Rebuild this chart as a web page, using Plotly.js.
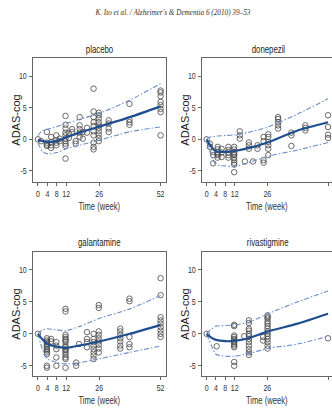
<!DOCTYPE html>
<html>
<head>
<meta charset="utf-8">
<script src="https://cdn.plot.ly/plotly-3.0.1.min.js"></script>
<style>html,body{margin:0;padding:0;background:#fff}#chart{width:332px;height:412px}</style>
</head>
<body>
<div id="chart"></div>
<script>
// ---- data (weeks / ADAS-cog change) ----
const panelNames = ["placebo", "donepezil", "galantamine", "rivastigmine"];
const weekTicks = [0, 4, 8, 12, 26, 52];
const adasTicks = [-5, 0, 5, 10];

const plaX = [0,1.4,3.8,3.8,3.8,3.8,5.6,5.6,5.6,5.6,7.8,7.8,7.8,7.8,9.2,9.2,
  11.7,11.7,11.7,11.7,11.7,11.7,11.7,11.7,11.7,11.7,13.1,13.1,14.5,14.5,16,16,
  17.7,17.7,17.7,17.7,17.7,19,19,20.8,20.8,
  23.6,23.6,23.6,23.6,23.6,23.6,23.6,23.6,23.6,23.6,
  25.8,25.8,25.8,25.8,25.8,25.8,25.8,25.8,25.8,25.8,
  30,30,30,30,38.8,38.8,38.8,38.8,52,52,52,52,52,52,52,52];
const plaY = [0,-0.3,1.16,-0.53,-0.84,-1.05,0.37,-0.42,-0.95,-1.37,0.63,-0.16,-0.53,-0.95,0.1,-0.3,
  3.7,2.3,1.7,1.05,0.63,0.1,-0.3,-0.7,-1.05,-3.05,0.9,0.2,1.6,1.16,-0.3,-0.7,
  3.5,2.2,1.6,1.05,0.37,1.16,0.1,1.8,1.05,
  8.0,4.4,3.5,2.7,2.1,1.26,0.63,-0.53,-1.2,-1.6,
  4.2,3.8,3.3,2.7,2.2,1.8,1.26,0.74,0.2,-0.3,
  3.0,2.5,1.7,1.16,5.6,3.1,2.7,2.3,7.7,7.4,6.8,5.9,5.4,4.8,4.3,0.63];

const donX = [0,1.4,1.4,2.8,2.8,2.8,4.7,4.7,4.7,4.7,4.7,4.7,6.4,6.4,6.4,
  9.3,9.3,9.3,9.3,9.3,11.8,11.8,11.8,11.8,11.8,11.8,11.8,11.8,11.8,11.8,
  14.2,14.2,14.2,16.4,18.1,18.1,18.1,19.9,21.8,21.8,
  24.4,24.4,24.4,24.4,26.4,26.4,26.4,26.4,26.4,26.4,
  30.6,30.6,30.6,30.6,30.6,36.3,36.3,36.3,42.3,42.3,42.3,52,52,52,52];
const donY = [0,-0.7,-1.2,-2.0,-2.5,-3.8,-1.2,-1.6,-2.0,-2.3,-2.5,-2.9,-1.5,-2.1,-2.8,
  -1.2,-1.7,-2.1,-2.5,-2.9,-1.2,-1.6,-2.0,-2.3,-2.5,-2.9,-3.3,-3.7,-4.0,-5.2,
  1.26,0.63,0.1,-3.5,-0.5,-0.95,-1.5,-3.5,-0.95,-1.5,
  0.37,-0.3,-3.3,-3.7,0.8,0.37,-0.42,-0.95,-1.5,-2.5,
  3.5,3.2,2.7,2.2,1.7,1.05,0.63,-1.05,2.2,1.8,1.4,3.8,1.95,0.74,0.2];

const galX = [0,3.8,3.8,3.8,3.8,3.8,3.8,3.8,3.8,3.8,3.8,3.8,3.8,5.6,5.6,
  7.8,7.8,7.8,7.8,7.8,
  11.7,11.7,11.7,11.7,11.7,11.7,11.7,11.7,11.7,11.7,11.7,11.7,11.7,11.7,11.7,11.7,
  16.2,16.2,17.4,20.8,20.8,20.8,20.8,
  23.6,23.6,23.6,23.6,23.6,23.6,23.6,23.6,
  25.8,25.8,25.8,25.8,25.8,25.8,25.8,25.8,25.8,
  34.9,34.9,34.9,34.9,34.9,34.9,34.9,38.8,38.8,38.8,38.8,38.8,
  52,52,52,52,52,52,52,52,52];
const galY = [0,-0.7,-1.05,-1.3,-1.6,-1.85,-2.1,-2.4,-2.6,-2.9,-3.2,-5.0,-5.3,-0.8,-1.2,
  -1.3,-1.85,-2.4,-3.7,-5.0,
  3.9,3.5,-0.15,-0.5,-0.8,-1.05,-1.3,-1.85,-2.1,-2.4,-2.6,-2.9,-3.3,-3.7,-3.95,-5.3,
  -4.5,-5.0,-1.6,0.26,-0.8,-1.3,-2.1,
  0,-0.8,-1.3,-1.85,-2.4,-2.9,-3.4,-3.95,
  4.5,4.05,0.37,-0.15,-0.7,-1.2,-1.7,-2.3,-2.9,
  0.8,0.37,-0.15,-0.7,-1.2,-1.85,-2.3,5.5,5.1,-0.5,-1.6,-2.1,
  8.7,6.05,2.6,2.1,1.6,1.05,0.5,0,-0.5];

const rivX = [0,4.3,11.8,11.8,11.8,11.8,11.8,11.8,11.8,11.8,11.8,11.8,11.8,11.8,16.1,
  18.1,18.1,18.1,18.1,18.1,18.1,18.1,18.1,18.1,18.1,18.1,18.1,24.2,24.2,
  26.1,26.1,26.1,26.1,26.1,26.1,26.1,26.1,26.1,26.1,26.1,26.1,26.1,26.1,52];
const rivY = [0,-1.95,1.4,1.2,-0.26,-0.5,-0.8,-1.05,-1.3,-1.6,-1.85,-2.1,-4.4,-5.0,-0.37,
  2.1,1.7,0.8,0.5,0,-0.37,-0.8,-1.3,-1.85,-2.4,-2.9,-3.3,-0.5,-1.05,
  2.9,2.6,2.4,1.95,1.6,1.2,0.8,0.37,0,-0.37,-0.8,-1.3,-1.85,-2.3,-0.7];

// model curves (mean and prediction interval)
const curveWeeks = [0, 2, 4, 8, 12, 18, 26, 39, 52];
const plaMean = [-0.1, -0.3, -0.4, -0.3, 0.3, 1.1, 2.0, 3.5, 5.2];
const plaUp   = [0.6, 1.4, 1.6, 2.0, 2.5, 3.2, 4.1, 6.2, 8.8];
const plaLo   = [-0.6, -1.9, -2.3, -2.1, -1.5, -0.9, -0.15, 1.2, 1.95];
const donMean = [0, -1.2, -1.9, -2.0, -1.85, -1.4, -0.5, 1.4, 2.7];
const donUp   = [0.2, 0.4, 0.5, 0.6, 0.7, 1.1, 1.9, 4.0, 6.4];
const donLo   = [-0.2, -2.6, -4.0, -4.2, -4.3, -3.7, -2.7, -1.7, -0.5];
const galMean = [0, -0.9, -1.6, -2.0, -2.2, -1.8, -1.2, 0.0, 1.4];
const galUp   = [0, 0.6, 0.8, 0.6, 0.5, 1.2, 2.4, 3.9, 6.0];
const galLo   = [0, -2.5, -3.9, -4.5, -4.7, -4.5, -3.9, -2.9, -1.9];
const rivMean = [0, -0.6, -0.95, -1.15, -1.1, -0.7, 0.35, 1.6, 3.15];
const rivUp   = [0.1, 0.7, 1.2, 1.3, 1.4, 1.8, 3.1, 5.0, 6.7];
const rivLo   = [-0.1, -1.8, -3.2, -3.5, -3.5, -3.1, -2.3, -1.6, -0.4];

const obsX = [plaX, donX, galX, rivX];
const obsY = [plaY, donY, galY, rivY];
const means = [plaMean, donMean, galMean, rivMean];
const ups = [plaUp, donUp, galUp, rivUp];
const los = [plaLo, donLo, galLo, rivLo];

const FONT = "Liberation Sans, Arial, sans-serif";
const traces = [];
for (let i = 0; i < 4; i++) {
  const xa = i === 0 ? "x" : "x" + (i + 1);
  const ya = i === 0 ? "y" : "y" + (i + 1);
  traces.push({x: obsX[i], y: obsY[i], xaxis: xa, yaxis: ya, mode: "markers", type: "scatter",
    marker: {symbol: "circle-open", size: 5.5, color: "#454545", line: {width: 0.8, color: "#454545"}},
    showlegend: false, hoverinfo: "x+y"});
  [ups[i], los[i]].forEach(arr => traces.push({x: curveWeeks, y: arr, xaxis: xa, yaxis: ya, mode: "lines",
    type: "scatter", line: {color: "#6a8dca", width: 1.1, dash: "5px,2px,1.5px,2px", shape: "spline", smoothing: 0.7},
    showlegend: false}));
  traces.push({x: curveWeeks, y: means[i], xaxis: xa, yaxis: ya, mode: "lines", type: "scatter",
    line: {color: "#1f4f8f", width: 2.2, shape: "spline", smoothing: 0.7}, showlegend: false});
}

const W = 332, H = 412;
const xL = [32.5 / W, 166 / W], xR = [201.5 / W, 1];
const yT = [1 - 182 / H, 1 - 58 / H], yB = [1 - 376 / H, 1 - 252 / H];

function xax(dom, rng, anchor) {
  return {domain: dom, range: rng, anchor: anchor, tickvals: weekTicks, ticktext: weekTicks.map(String),
    tickangle: 0, showline: true, mirror: true, linecolor: "#666", linewidth: 1, ticks: "outside", ticklen: 3,
    tickcolor: "#666", showgrid: false, zeroline: false, tickfont: {family: FONT, size: 9, color: "#333"},
    title: {text: "Time (week)", font: {family: FONT, size: 10, color: "#333"}, standoff: 5}};
}
function yax(dom, rng, anchor) {
  return {domain: dom, range: rng, anchor: anchor, tickvals: adasTicks, ticktext: adasTicks.map(String),
    showline: true, mirror: true, linecolor: "#666", linewidth: 1, ticks: "outside", ticklen: 3,
    tickcolor: "#666", showgrid: false, zeroline: false, tickfont: {family: FONT, size: 9, color: "#333"},
    title: {text: "ADAS-cog", font: {family: FONT, size: 11, color: "#222"}, standoff: 2}};
}

const layout = {
  width: W, height: H, margin: {l: 0, r: 0, t: 0, b: 0}, paper_bgcolor: "#fff", plot_bgcolor: "#fff",
  showlegend: false,
  xaxis: xax(xL, [-2.3, 54.3], "y"), yaxis: yax(yT, [-6.75, 12.85], "x"),
  xaxis2: xax(xR, [-2.2, 53.7], "y2"), yaxis2: yax(yT, [-6.75, 12.85], "x2"),
  xaxis3: xax(xL, [-2.3, 54.3], "y3"), yaxis3: yax(yB, [-6.6, 12.8], "x3"),
  xaxis4: xax(xR, [-2.2, 53.7], "y4"), yaxis4: yax(yB, [-6.6, 12.8], "x4"),
  annotations: [
    {text: "K. Ito et al. / Alzheimer's & Dementia 6 (2010) 39–53", xref: "paper", yref: "paper",
     x: 172 / W, y: 1 - 12 / H, showarrow: false, xanchor: "center", yanchor: "middle",
     font: {family: "Liberation Serif, Times New Roman, serif", size: 9, color: "#333", style: "italic"}},
    {text: panelNames[0], xref: "paper", yref: "paper", x: (xL[0] + xL[1]) / 2, y: 1 - 50 / H, showarrow: false,
     xanchor: "center", yanchor: "middle", font: {family: FONT, size: 10, color: "#222"}},
    {text: panelNames[1], xref: "paper", yref: "paper", x: 268 / W, y: 1 - 50 / H, showarrow: false,
     xanchor: "center", yanchor: "middle", font: {family: FONT, size: 10, color: "#222"}},
    {text: panelNames[2], xref: "paper", yref: "paper", x: (xL[0] + xL[1]) / 2, y: 1 - 243 / H, showarrow: false,
     xanchor: "center", yanchor: "middle", font: {family: FONT, size: 10, color: "#222"}},
    {text: panelNames[3], xref: "paper", yref: "paper", x: 268 / W, y: 1 - 243 / H, showarrow: false,
     xanchor: "center", yanchor: "middle", font: {family: FONT, size: 10, color: "#222"}}
  ]
};

// the reference figure is horizontally condensed; squeeze horizontal text glyphs to match
function condense(gd) {
  gd.querySelectorAll("text").forEach(t => {
    const cls = t.getAttribute("class") || "";
    if (/ytitle|y\dtitle/.test(cls)) {
      // tick labels were narrowed, so bring the y titles closer to the axes
      const g = t.parentNode;
      if (g) g.setAttribute("transform", "translate(8.5,0)");
      return;
    }
    let f = 0.78;
    if (/annotation-text/.test(cls) && t.textContent.indexOf("Ito") >= 0) f = 0.8;
    else if (/xtitle|x\dtitle/.test(cls)) f = 0.76;
    const len = t.getComputedTextLength();
    if (len > 0) {
      t.setAttribute("textLength", (len * f).toFixed(2));
      t.setAttribute("lengthAdjust", "spacingAndGlyphs");
    }
  });
}

Plotly.newPlot("chart", traces, layout, {staticPlot: true, displayModeBar: false}).then(condense);
</script>
</body>
</html>
